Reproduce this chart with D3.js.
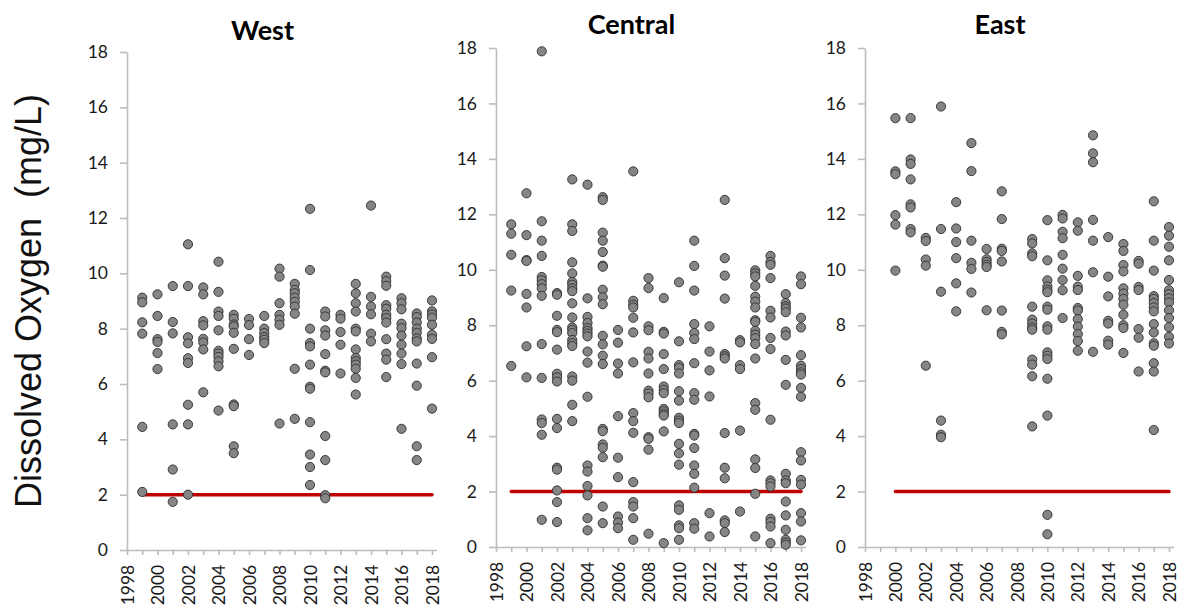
<!DOCTYPE html>
<html>
<head>
<meta charset="utf-8">
<script src="https://cdn.jsdelivr.net/npm/d3@7"></script>
<style>
  body { margin: 0; background: #fff; }
  svg { display: block; }
  .tick text { font-family: Lato, "Open Sans", sans-serif; font-size: 17.5px; fill: #1a1a1a; }
  .domain, .tick line { stroke: #bdbdbd; stroke-width: 1.6px; }
</style>
</head>
<body>
<svg id="chart" width="1187" height="612"></svg>
<script>
// tick labels
const yTicks = [0, 2, 4, 6, 8, 10, 12, 14, 16, 18];
const yearTicks = d3.range(1998, 2019);
const panelNames = ["West", "Central", "East"];
const limitValue = 2;
// threshold line spans [from, to] per panel
const westLimit = [1999, 2018];
const centralLimit = [1999, 2018];
const eastLimit = [2000, 2018];

// dissolved oxygen readings (mg/L) by year
const westData = [
  [1999, [9.12, 8.95, 8.23, 7.82, 4.45, 2.1]],
  [2000, [9.24, 8.46, 7.62, 7.52, 7.12, 6.54]],
  [2001, [9.54, 8.24, 7.83, 4.54, 2.91, 1.74]],
  [2002, [11.05, 9.54, 7.69, 7.47, 6.93, 6.76, 5.25, 4.54, 2.0]],
  [2003, [9.49, 9.24, 8.27, 8.12, 7.63, 7.5, 7.25, 5.7]],
  [2004, [10.42, 9.33, 8.62, 8.46, 7.94, 7.2, 7.1, 6.98, 6.82, 6.64, 5.04]],
  [2005, [8.5, 8.36, 8.15, 8.08, 7.85, 7.27, 5.26, 5.2, 3.75, 3.5]],
  [2006, [8.35, 8.13, 7.62, 7.05]],
  [2007, [8.46, 8.0, 7.84, 7.7, 7.6, 7.48]],
  [2008, [10.17, 9.88, 8.92, 8.5, 8.32, 8.14, 4.57]],
  [2009, [9.62, 9.4, 9.28, 9.12, 8.97, 8.8, 8.54, 6.55, 4.74]],
  [2010, [12.33, 10.12, 8.0, 7.48, 7.36, 6.7, 5.9, 5.83, 4.62, 3.45, 3.0, 2.35]],
  [2011, [8.62, 8.44, 7.94, 7.75, 7.08, 6.48, 6.42, 4.12, 3.25, 1.98, 1.87]],
  [2012, [8.5, 8.36, 7.88, 7.42, 6.38]],
  [2013, [9.62, 9.28, 8.92, 8.62, 8.0, 7.9, 7.25, 6.94, 6.82, 6.7, 6.55, 6.22, 5.62]],
  [2014, [12.45, 9.15, 8.8, 8.52, 7.82, 7.54]],
  [2015, [9.88, 9.72, 9.55, 8.85, 8.72, 8.5, 8.38, 8.22, 7.62, 7.1, 6.88, 6.25]],
  [2016, [9.1, 8.92, 8.7, 8.18, 8.02, 7.75, 7.42, 7.1, 6.72, 4.38]],
  [2017, [8.55, 8.42, 8.22, 8.0, 7.85, 7.65, 7.54, 6.74, 5.94, 3.75, 3.25]],
  [2018, [9.02, 8.63, 8.52, 8.4, 8.14, 7.78, 7.63, 6.97, 5.11]]
];

const centralData = [
  [1999, [11.64, 11.3, 10.54, 9.25, 6.53]],
  [2000, [12.76, 11.25, 10.35, 10.32, 9.13, 8.64, 7.24, 6.12]],
  [2001, [17.88, 11.75, 11.05, 10.5, 9.74, 9.62, 9.48, 9.33, 9.06, 7.32, 6.1, 4.6, 4.47, 4.05, 0.98]],
  [2002, [9.16, 9.1, 8.34, 7.83, 7.75, 7.12, 6.25, 6.12, 5.97, 4.62, 4.29, 2.86, 2.79, 2.04, 1.62, 0.9]],
  [2003, [13.26, 11.64, 11.4, 10.27, 9.87, 9.56, 9.46, 9.33, 9.23, 8.79, 8.28, 7.92, 7.83, 7.72, 7.47, 7.35, 7.25, 6.15, 6.0, 5.13, 4.54]],
  [2004, [13.07, 8.97, 8.3, 8.08, 7.9, 7.8, 7.7, 7.6, 7.05, 6.65, 5.42, 2.94, 2.72, 2.2, 1.86, 1.04, 0.6]],
  [2005, [12.62, 12.52, 11.34, 11.05, 10.64, 10.15, 10.11, 9.28, 9.01, 8.76, 7.62, 7.31, 6.9, 6.6, 4.26, 4.18, 3.7, 3.58, 3.24, 1.46, 0.86]],
  [2006, [7.83, 7.37, 6.62, 6.26, 4.72, 3.22, 2.52, 1.1, 0.88, 0.68]],
  [2007, [13.55, 8.88, 8.74, 8.64, 8.27, 7.74, 6.66, 4.83, 4.54, 4.12, 2.34, 1.62, 1.46, 1.04, 0.26]],
  [2008, [9.7, 9.34, 7.96, 7.82, 7.04, 6.8, 6.26, 5.64, 5.54, 5.4, 3.96, 3.9, 3.51, 0.48]],
  [2009, [8.98, 7.76, 7.7, 6.96, 6.42, 5.79, 5.67, 5.55, 4.98, 4.9, 4.8, 4.74, 4.17, 0.14]],
  [2010, [9.55, 7.42, 6.56, 6.46, 6.26, 5.62, 5.28, 4.66, 4.56, 4.47, 3.72, 3.38, 2.97, 1.5, 1.34, 0.78, 0.68, 0.26]],
  [2011, [11.05, 10.14, 9.25, 8.04, 7.72, 7.5, 6.63, 5.55, 5.31, 4.08, 4.02, 3.57, 2.94, 2.64, 2.14, 0.86, 0.66]],
  [2012, [7.96, 7.05, 6.37, 5.43, 1.22, 0.38]],
  [2013, [12.52, 10.42, 9.79, 8.96, 6.96, 6.88, 6.8, 4.11, 2.86, 2.48, 0.96, 0.86, 0.54]],
  [2014, [7.46, 7.38, 6.56, 6.42, 4.2, 1.28]],
  [2015, [9.98, 9.87, 9.76, 9.42, 9.03, 8.85, 8.64, 8.18, 8.12, 7.8, 7.66, 7.53, 7.32, 6.8, 5.19, 4.95, 3.16, 2.85, 1.92, 0.38]],
  [2016, [10.5, 10.28, 10.18, 9.7, 8.52, 8.28, 7.54, 7.14, 4.59, 2.4, 2.3, 2.18, 1.02, 0.9, 0.74, 0.14]],
  [2017, [9.12, 8.8, 8.68, 8.6, 8.47, 7.77, 7.63, 6.75, 5.85, 2.64, 2.4, 2.3, 1.64, 1.14, 0.62, 0.26, 0.16, 0.08]],
  [2018, [9.76, 9.48, 8.27, 7.92, 6.92, 6.54, 6.42, 6.3, 6.22, 5.74, 5.42, 3.42, 3.12, 2.42, 2.25, 1.22, 0.92, 0.24]]
];

const eastData = [
  [2000, [15.47, 13.55, 13.45, 11.97, 11.63, 9.97]],
  [2001, [15.47, 13.98, 13.82, 13.26, 12.36, 12.25, 11.47, 11.35]],
  [2002, [11.15, 11.04, 10.37, 10.15, 6.54]],
  [2003, [15.89, 11.47, 9.21, 4.56, 4.05, 3.96]],
  [2004, [12.44, 11.49, 11.0, 10.42, 9.51, 8.5]],
  [2005, [14.57, 13.56, 11.05, 10.25, 10.03, 9.18]],
  [2006, [10.75, 10.38, 10.28, 10.18, 10.1, 8.54]],
  [2007, [12.83, 11.83, 10.76, 10.68, 10.3, 8.53, 7.76, 7.67]],
  [2009, [11.11, 10.95, 10.59, 10.49, 8.67, 8.2, 8.06, 7.92, 7.84, 6.76, 6.58, 6.16, 4.35]],
  [2010, [11.79, 10.34, 9.62, 9.4, 9.28, 9.19, 8.67, 8.56, 7.96, 7.84, 7.02, 6.9, 6.78, 6.07, 4.74, 1.16, 0.46]],
  [2011, [11.98, 11.85, 11.37, 11.14, 10.54, 10.04, 9.63, 9.26, 8.26]],
  [2012, [11.71, 11.41, 9.78, 9.39, 9.27, 8.62, 8.53, 8.22, 7.95, 7.68, 7.43, 7.08]],
  [2013, [14.85, 14.2, 13.88, 11.8, 11.05, 9.91, 7.04]],
  [2014, [11.18, 9.75, 9.04, 8.16, 8.06, 7.44, 7.3]],
  [2015, [10.93, 10.68, 10.17, 9.94, 9.33, 9.14, 8.95, 8.74, 8.38, 8.0, 7.9, 7.0]],
  [2016, [10.32, 10.22, 9.38, 9.27, 7.86, 7.55, 6.33]],
  [2017, [12.47, 11.05, 9.97, 9.05, 8.95, 8.8, 8.64, 8.5, 8.04, 7.74, 7.35, 7.26, 6.63, 6.33, 4.22]],
  [2018, [11.54, 11.23, 10.83, 10.34, 9.63, 9.26, 9.12, 8.97, 8.82, 8.54, 8.26, 7.93, 7.58, 7.34]]
];

const svg = d3.select("#chart");

const panels = [
  { name: panelNames[0], data: westData, limit: westLimit, left: 127, right: 432, top: 52, bottom: 550, titleY: 40 },
  { name: panelNames[1], data: centralData, limit: centralLimit, left: 496, right: 801, top: 48, bottom: 547, titleY: 34 },
  { name: panelNames[2], data: eastData, limit: eastLimit, left: 865, right: 1169, top: 48, bottom: 547, titleY: 34 }
];

panels.forEach(p => {
  const x = d3.scaleLinear().domain([1998, 2018]).range([p.left, p.right]);
  const y = d3.scaleLinear().domain([0, 18]).range([p.bottom, p.top]);
  const g = svg.append("g");

  // axes
  g.append("g")
    .attr("transform", `translate(${p.left},0)`)
    .call(d3.axisLeft(y).tickValues(yTicks).tickSize(7).tickPadding(12).tickSizeOuter(0));

  const xAxis = g.append("g")
    .attr("transform", `translate(0,${p.bottom})`)
    .call(d3.axisBottom(x).tickValues(yearTicks).tickSize(5).tickSizeOuter(0)
      .tickFormat(d => d % 2 === 0 ? d : ""));
  xAxis.select(".domain").attr("d", `M${p.left},0.5H${p.right + 5}`);
  xAxis.selectAll(".tick text")
    .attr("text-anchor", "end")
    .attr("transform", "translate(0,-8) rotate(-90)")
    .attr("dx", "-0.5em")
    .attr("dy", "0.35em")
    .attr("y", 0)
    .attr("x", -14);

  // threshold line
  g.append("line")
    .attr("x1", x(p.limit[0])).attr("x2", x(p.limit[1]))
    .attr("y1", y(limitValue)).attr("y2", y(limitValue))
    .attr("stroke", "#c00000")
    .attr("stroke-width", 3.5)
    .attr("stroke-linecap", "round");

  // points
  const pts = p.data.flatMap(([yr, vals]) => vals.map(v => ({ yr, v })));
  g.selectAll("circle.pt")
    .data(pts)
    .join("circle")
    .attr("class", "pt")
    .attr("cx", d => x(d.yr))
    .attr("cy", d => y(d.v))
    .attr("r", 4.6)
    .attr("fill", "#858585")
    .attr("stroke", "#2e2e2e")
    .attr("stroke-width", 0.9);

  // title
  g.append("text")
    .attr("x", (p.left + p.right) / 2 - 17)
    .attr("y", p.titleY)
    .attr("text-anchor", "middle")
    .style("font-family", "Lato, sans-serif")
    .style("font-weight", "bold")
    .style("font-size", "27px")
    .text(p.name);
});

// y axis label
svg.append("text")
  .attr("transform", "translate(41,301) rotate(-90)")
  .attr("text-anchor", "middle")
  .style("font-family", "'Liberation Sans', Arial, sans-serif")
  .style("font-size", "36px")
  .style("fill", "#111")
  .style("white-space", "pre")
  .text("Dissolved Oxygen  (mg/L)");
</script>
</body>
</html>
